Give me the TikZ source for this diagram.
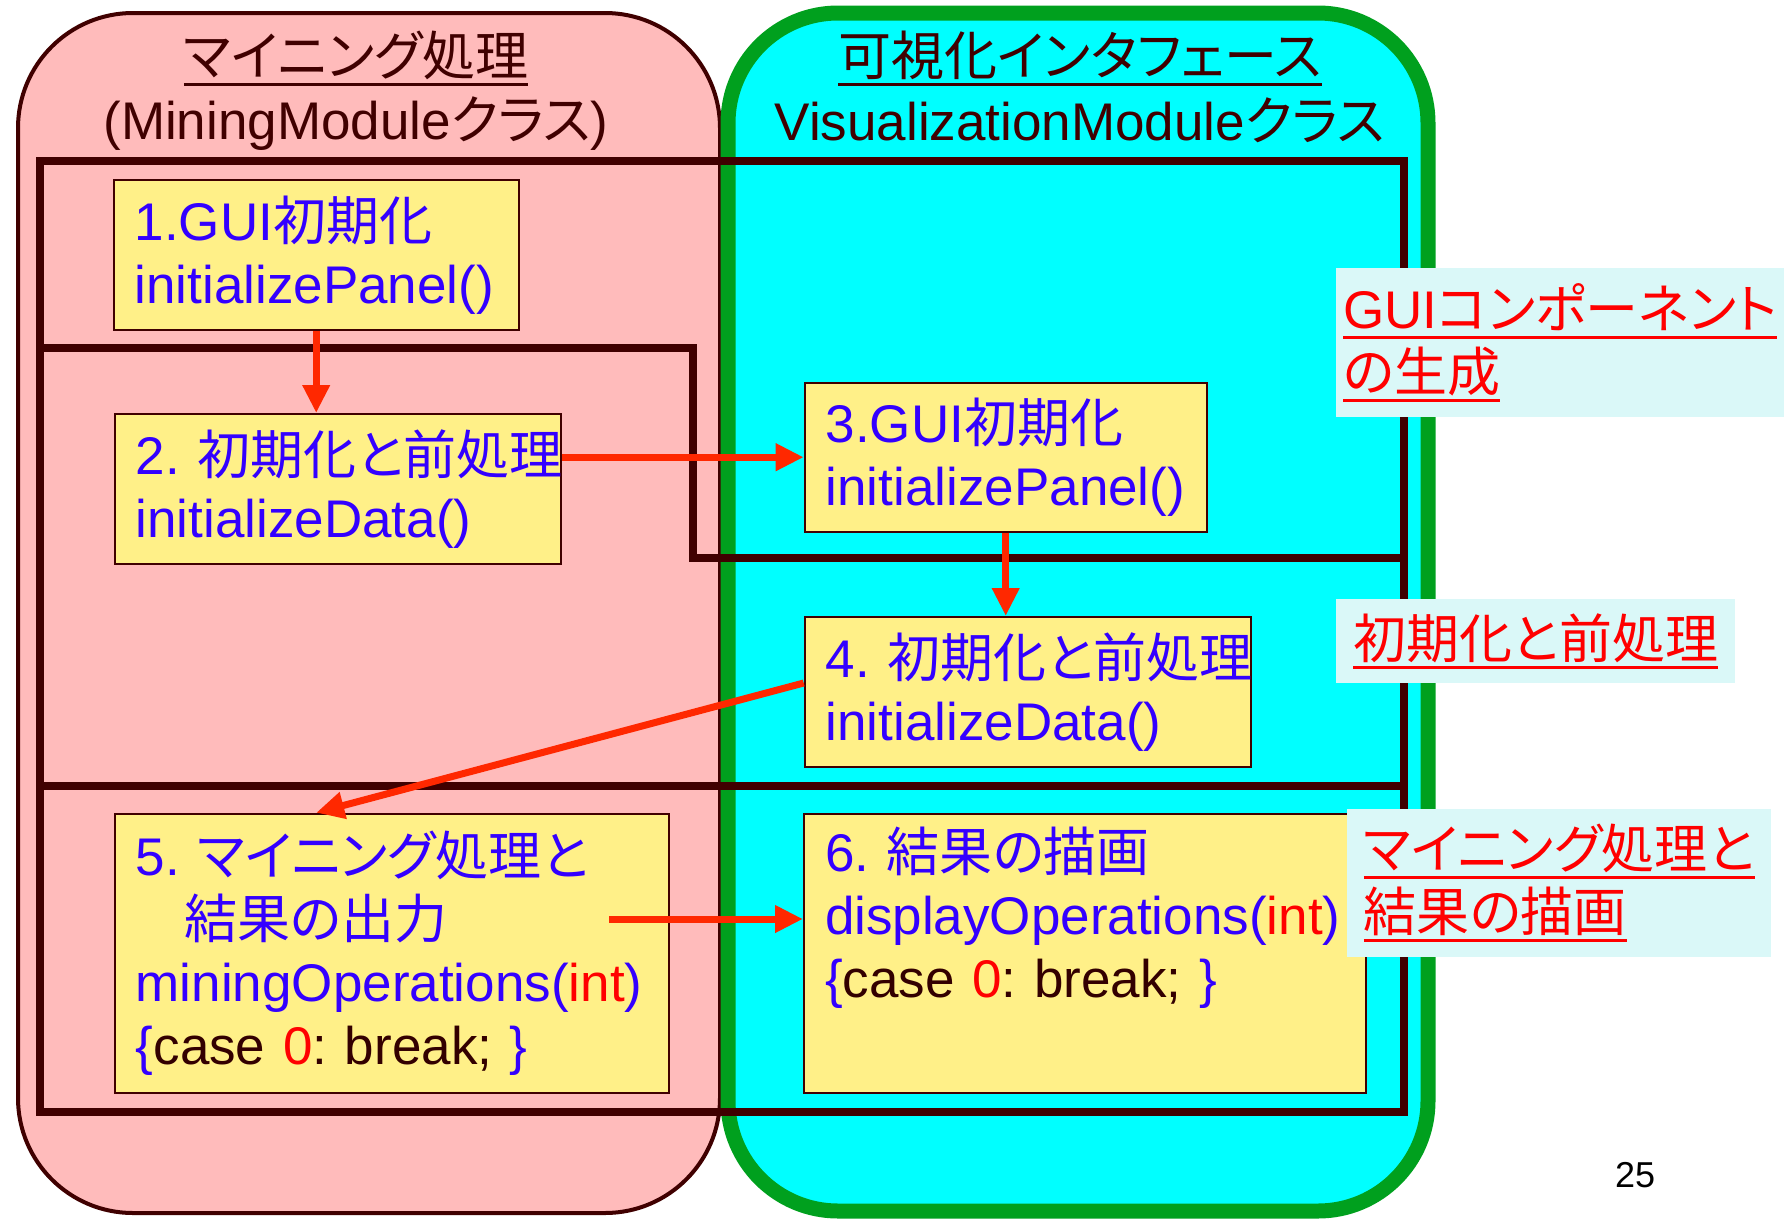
\documentclass[tikz,border=0pt]{standalone}
\usepackage{fontspec}
\setmainfont{Liberation Sans}
\newfontfamily\jpfont[RawFeature={+palt}]{Noto Sans CJK JP}
\usetikzlibrary{arrows.meta}

\definecolor{pinkbg}{RGB}{255,187,187}
\definecolor{cyanbg}{RGB}{0,255,255}
\definecolor{greenline}{RGB}{0,160,30}
\definecolor{darkred}{RGB}{64,0,0}
\definecolor{boxyellow}{RGB}{255,240,136}
\definecolor{txtblue}{RGB}{51,0,255}
\definecolor{codebrown}{RGB}{51,0,0}
\definecolor{arrred}{RGB}{255,40,0}
\definecolor{labbg}{RGB}{218,248,248}

\newcommand{\jp}[1]{{\jpfont #1}}
\newsavebox{\ulbox}
\newcommand{\undl}[1]{\sbox{\ulbox}{#1}\rlap{\rule[-11pt]{\wd\ulbox}{3.5pt}}\usebox{\ulbox}}
\newcommand{\code}{\{\textcolor{codebrown}{case }\textcolor{red}{0}\textcolor{codebrown}{: break; }\}}
\hyphenpenalty=10000
\frenchspacing

\begin{document}
\begin{tikzpicture}[
			x=1pt, y=-1pt,
			big/.style = {font=\fontsize{53}{63}\selectfont},
			box/.style = {draw=darkred, line width=2pt, fill=boxyellow, anchor=north west, align=left, inner xsep=21pt, inner ysep=0pt, text=txtblue, big},
			lab/.style = {fill=labbg, anchor=north west, align=left, inner sep=0pt, text=red, big},
			title/.style = {anchor=base, text=darkred, font=\fontsize{53}{58}\selectfont},
			frame/.style = {draw=darkred, line width=8pt},
			arr/.style = {draw=arrred, line width=7pt, -{Triangle[length=28pt, width=26pt]}}
		]
		\useasboundingbox (0,0) rectangle (1784,1218);
		% the two modules
		\draw[fill=pinkbg, draw=darkred, line width=4pt, rounded corners=115pt] (18,13) rectangle (720,1213);
		\draw[fill=cyanbg, draw=greenline, line width=15pt, rounded corners=110pt] (728,13) rectangle (1428,1211);
		\node[title] (t1) at (356,75) {\undl{\jp{マイニング処理}}};
		\node[title] (t2) at (356,139) {(MiningModule\jp{クラス})};
		\node[title] (t3) at (1080,75) {\undl{\jp{可視化インタフェース}}};
		\node[title] (t4) at (1080,140) {VisualizationModule\jp{クラス}};
		% phases
		\draw[frame] (40,161) rectangle (1404,1111.5);
		\draw[frame] (40,348) -- (693,348) -- (693,557.5) -- (1404,557.5);
		\draw[frame] (40,786) -- (1404,786);
		% steps
		\node[box, text width=363pt, minimum height=150pt] (b1) at (112.7,179) {1.GUI\jp{初期化}\\initializePanel()};
		\node[box, text width=404pt, minimum height=150pt] (b2) at (113.7,413) {2.~\jp{初期化と前処理}\\initializeData()};
		\node[box, text width=360pt, minimum height=149pt] (b3) at (803.7,381.7) {3.GUI\jp{初期化}\\initializePanel()};
		\node[box, text width=404pt, minimum height=150pt] (b4) at (803.7,616) {4.~\jp{初期化と前処理}\\initializeData()};
		\node[box, text width=512pt, minimum height=279pt] (b5) at (113.8,812.7) {5.~\jp{マイニング処理と}\\\hspace*{49pt}\jp{結果の出力}\\miningOperations(\textcolor{red}{int})\\\code};
		\node[box, text width=520pt, minimum height=279pt] (b6) at (803,812.7) {6.~\jp{結果の描画}\\displayOperations(\textcolor{red}{int})\\\code\\\strut};
		\coordinate (s5) at (609,919);
		\draw[arr] (b1.south) -- (b1.south |- b2.north);
		\draw[arr] (b3.west -| b2.east) -- (b3.west);
		\draw[arr] (b3.south) -- (b3.south |- b4.north);
		\draw[arr] ([yshift=9pt]b4.west) -- (b1.south |- b5.north);
		\draw[arr] (s5) -- (s5 -| b6.west);
		% notes
		\node[lab, minimum width=448pt, minimum height=149pt] (n1) at (1336,268) {\undl{GUI\jp{コンポーネント}}\\\undl{\jp{の生成}}};
		\node[lab, minimum width=399pt, minimum height=84pt] (n2) at (1336,599) {\undl{\jp{初期化と前処理}}};
		\node[lab, minimum width=424pt, minimum height=148pt] (n3) at (1347,809) {\undl{\jp{マイニング処理と}}\\\undl{\jp{結果の描画}}};
		\node[font=\fontsize{36}{40}\selectfont, text=black] (pg) at (1635,1175) {25};
	\end{tikzpicture}
\end{document}
